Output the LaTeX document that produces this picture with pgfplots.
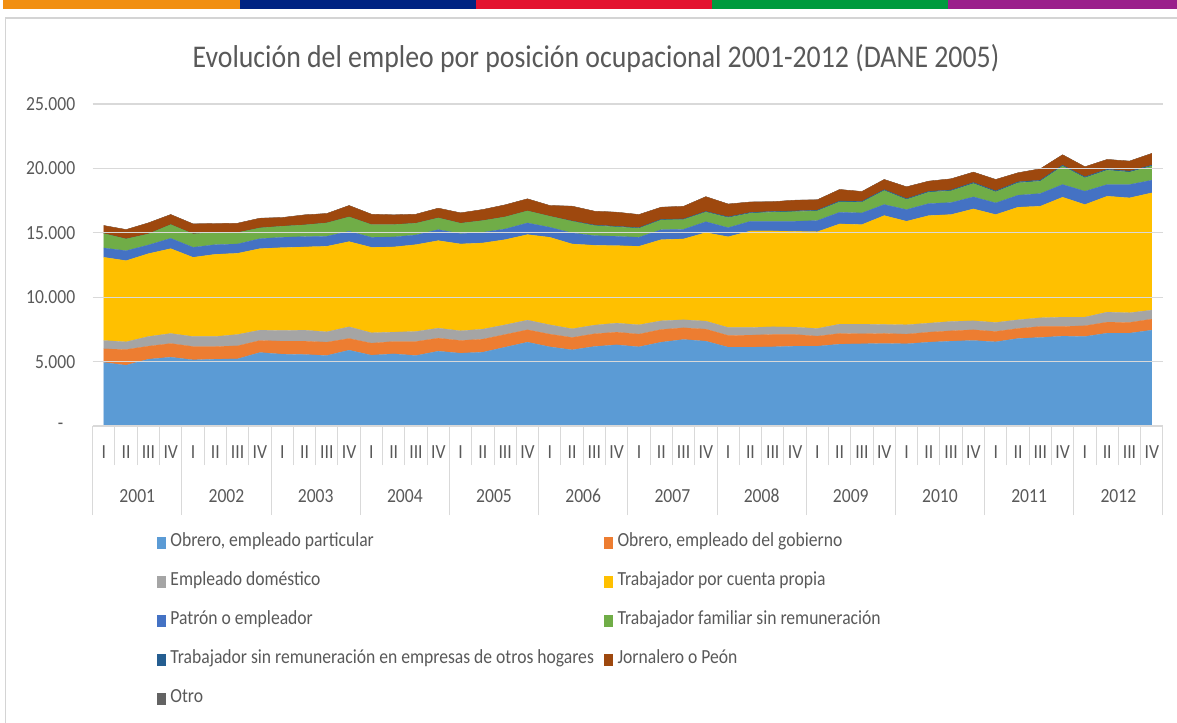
\documentclass[border=0pt]{standalone}
\usepackage{pgfplots}
\pgfplotsset{compat=1.18}
\usepackage{pgfplotstable}
\usepackage{fontspec}
\setmainfont{Carlito}
\newfontfamily\condfont[FakeStretch=0.88]{Carlito}
\definecolor{c1}{HTML}{5B9BD5}
\definecolor{c2}{HTML}{ED7D31}
\definecolor{c3}{HTML}{A5A5A5}
\definecolor{c4}{HTML}{FFC000}
\definecolor{c5}{HTML}{4472C4}
\definecolor{c6}{HTML}{70AD47}
\definecolor{c7}{HTML}{255E91}
\definecolor{c8}{HTML}{9E480E}
\definecolor{c9}{HTML}{636363}
\definecolor{txt}{HTML}{595959}
\definecolor{gridc}{HTML}{D9D9D9}
\definecolor{framec}{HTML}{D4D4D4}
\definecolor{b1}{HTML}{F18F12}
\definecolor{b2}{HTML}{002382}
\definecolor{b3}{HTML}{E3132F}
\definecolor{b4}{HTML}{009A3E}
\definecolor{b5}{HTML}{9A1F8B}
\newcommand\lab{\condfont\fontsize{20bp}{24bp}\selectfont}
\newcommand\ttl{\condfont\fontsize{31.6bp}{36bp}\selectfont}

\pgfplotstableread{
k a b c d e f g h o
0 4927 1063 648 6457 726 1115 0 622 10
1 4719 1219 596 6301 778 908 0 726 10
2 5186 1011 752 6431 674 856 0 856 10
3 5342 1063 778 6586 804 1063 0 778 10
4 5134 1037 778 6146 778 1037 0 778 10
5 5186 985 778 6379 752 960 0 674 10
6 5212 1011 882 6301 726 882 0 726 10
7 5705 933 804 6327 778 830 0 752 10
8 5575 1011 830 6431 804 856 0 674 10
9 5549 1037 856 6457 804 907 0 778 10
10 5471 1037 804 6639 778 1037 0 726 10
11 5886 908 908 6612 803 1115 0 882 10
12 5497 933 805 6638 778 985 0 804 10
13 5601 959 727 6612 778 959 0 752 10
14 5471 1089 779 6741 752 908 0 700 10
15 5808 1011 778 6794 856 908 0 752 10
16 5653 985 752 6742 804 804 0 804 10
17 5731 1011 778 6690 830 908 0 855 10
18 6119 986 752 6612 830 934 0 933 10
19 6508 960 752 6638 908 933 0 934 10
20 6145 986 726 6794 778 855 0 830 10
21 5912 959 675 6586 856 908 20 1147 10
22 6171 986 674 6197 752 778 50 1066 10
23 6301 986 700 6015 727 726 50 1091 10
24 6145 986 726 6094 700 700 50 1013 10
25 6508 986 674 6301 778 752 50 935 10
26 6716 907 623 6275 749 757 50 973 10
27 6586 934 622 6873 845 750 50 1140 10
28 6119 908 622 7040 710 780 60 990 10
29 6119 934 596 7491 755 625 60 810 10
30 6145 960 596 7439 755 705 60 750 10
31 6197 908 570 7435 785 745 60 830 10
32 6197 778 597 7508 870 750 60 800 10
33 6353 830 726 7779 907 804 70 889 10
34 6379 778 752 7727 907 830 70 760 10
35 6405 778 700 8453 856 1089 70 785 10
36 6379 752 726 8038 908 778 70 915 10
37 6508 778 701 8349 934 881 70 786 10
38 6586 804 726 8298 933 908 70 863 10
39 6638 830 700 8687 933 1037 80 802 10
40 6534 804 700 8376 907 856 80 879 10
41 6794 778 674 8738 934 959 80 698 10
42 6871 856 674 8661 985 960 80 879 10
43 6975 752 726 9309 985 1426 80 802 10
44 6949 830 674 8739 1037 1037 80 776 10
45 7209 855 778 8998 907 1115 80 750 10
46 7209 829 752 8920 1037 960 80 776 10
47 7442 856 700 9101 985 1089 80 906 10
}\datatable

\begin{document}
\begin{tikzpicture}
\path[use as bounding box] (0,0) rectangle (1177bp,723bp);
% decorative frame and color bar
\fill[b1] (3bp,714bp) rectangle (240bp,723bp);
\fill[b2] (240bp,714bp) rectangle (476bp,723bp);
\fill[b3] (476bp,714bp) rectangle (712bp,723bp);
\fill[b4] (712bp,714bp) rectangle (948bp,723bp);
\fill[b5] (948bp,714bp) rectangle (1177bp,723bp);
\draw[framec, line width=1.6bp] (5.5bp,-20bp) -- (5.5bp,705bp) -- (1200bp,705bp);
\node[text=txt, font=\ttl] at (596bp,665bp) {Evolución del empleo por posición ocupacional 2001-2012 (DANE 2005)};
\begin{axis}[
  at={(92.7bp,297bp)}, anchor=south west,
  scale only axis, width=1070.3bp, height=322bp,
  xmin=-0.5, xmax=47.5, ymin=0, ymax=25000,
  scaled y ticks=false,
  stack plots=y, area style,
  clip=false,
  axis x line*=bottom, axis y line*=left,
  y axis line style={draw=none},
  x axis line style={draw=gridc, line width=1bp},
  ymajorgrids, grid style={draw=gridc, line width=1.3bp},
  ytick={0,5000,10000,15000,20000,25000},
  yticklabels={{-\kern12bp},5.000,10.000,15.000,20.000,25.000},
  yticklabel style={font=\lab, text=txt, anchor=east, xshift=-14bp},
  xtick={0,...,47},
  xticklabels={I,II,III,IV,I,II,III,IV,I,II,III,IV,I,II,III,IV,I,II,III,IV,I,II,III,IV,I,II,III,IV,I,II,III,IV,I,II,III,IV,I,II,III,IV,I,II,III,IV,I,II,III,IV},
  xticklabel style={font=\lab, text=txt, anchor=center, yshift=-26bp},
  major tick length=0pt,
  minor xtick={-0.5,0.5,...,47.5},
  minor tick length=39bp,
  tick align=outside,
  every tick/.style={draw=gridc, line width=1bp},
  extra x ticks={-0.5,3.5,...,47.5},
  extra x tick labels={},
  extra x tick style={major tick length=89bp, tick align=outside},
  legend columns=2,
  legend cell align=left,
  legend style={at={(axis description cs:0.0601,-0.3355)}, anchor=north west,
    draw=none, fill=none, inner sep=0pt, font=\lab, text=txt,
    nodes={inner xsep=5.5bp, inner ysep=0pt, text height=12bp, text depth=4bp},
    row sep=23bp,
    /tikz/every even column/.append style={column sep=5bp}},
  legend image code/.code={\fill[#1] (0bp,-5.5bp) rectangle (7.5bp,5.5bp);},
]
\addplot[fill=c1, draw=c1, line width=0.2bp] table[x=k,y=a]{\datatable} \closedcycle;
\addlegendentry{Obrero, empleado particular}
\addplot[fill=c2, draw=c2, line width=0.2bp] table[x=k,y=b]{\datatable} \closedcycle;
\addlegendentry{Obrero, empleado del gobierno}
\addplot[fill=c3, draw=c3, line width=0.2bp] table[x=k,y=c]{\datatable} \closedcycle;
\addlegendentry{Empleado doméstico}
\addplot[fill=c4, draw=c4, line width=0.2bp] table[x=k,y=d]{\datatable} \closedcycle;
\addlegendentry{Trabajador por cuenta propia}
\addplot[fill=c5, draw=c5, line width=0.2bp] table[x=k,y=e]{\datatable} \closedcycle;
\addlegendentry{Patrón o empleador}
\addplot[fill=c6, draw=c6, line width=0.2bp] table[x=k,y=f]{\datatable} \closedcycle;
\addlegendentry{Trabajador familiar sin remuneración}
\addplot[fill=c7, draw=c7, line width=0.2bp] table[x=k,y=g]{\datatable} \closedcycle;
\addlegendentry{Trabajador sin remuneración en empresas de otros hogares}
\addplot[fill=c8, draw=c8, line width=0.2bp] table[x=k,y=h]{\datatable} \closedcycle;
\addlegendentry{Jornalero o Peón}
\addplot[fill=c9, draw=c9, line width=0.2bp] table[x=k,y=o]{\datatable} \closedcycle;
\addlegendentry{Otro}
\node[font=\lab, text=txt] at (axis cs:1.5,0) [yshift=-70bp] {2001};
\node[font=\lab, text=txt] at (axis cs:5.5,0) [yshift=-70bp] {2002};
\node[font=\lab, text=txt] at (axis cs:9.5,0) [yshift=-70bp] {2003};
\node[font=\lab, text=txt] at (axis cs:13.5,0) [yshift=-70bp] {2004};
\node[font=\lab, text=txt] at (axis cs:17.5,0) [yshift=-70bp] {2005};
\node[font=\lab, text=txt] at (axis cs:21.5,0) [yshift=-70bp] {2006};
\node[font=\lab, text=txt] at (axis cs:25.5,0) [yshift=-70bp] {2007};
\node[font=\lab, text=txt] at (axis cs:29.5,0) [yshift=-70bp] {2008};
\node[font=\lab, text=txt] at (axis cs:33.5,0) [yshift=-70bp] {2009};
\node[font=\lab, text=txt] at (axis cs:37.5,0) [yshift=-70bp] {2010};
\node[font=\lab, text=txt] at (axis cs:41.5,0) [yshift=-70bp] {2011};
\node[font=\lab, text=txt] at (axis cs:45.5,0) [yshift=-70bp] {2012};
\end{axis}
\end{tikzpicture}
\end{document}
